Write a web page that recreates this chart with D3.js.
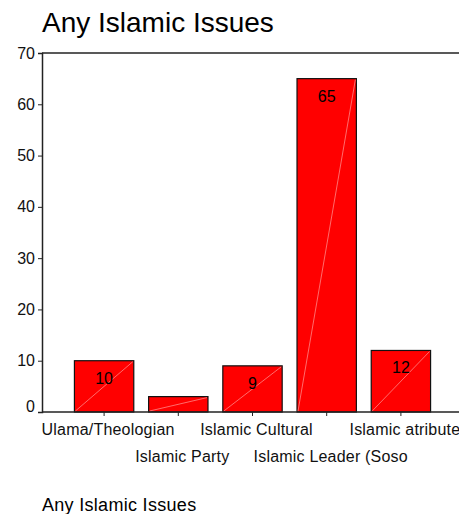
<!DOCTYPE html>
<html>
  <head>
    <title>Any Islamic Issues</title>
    <script src="https://d3js.org/d3.v7.min.js"></script>
    <style>
      body { margin: 0; background: #fff; }
      svg { font-family: "Liberation Sans", Arial, sans-serif; }
    </style>
  </head>
  <body>
    <svg width="459" height="514"></svg>
    <script>
    const categories = ["Ulama/Theologian", "Islamic Party", "Islamic Cultural", "Islamic Leader (Soso", "Islamic atribute"];
    const values = [10, 3, 9, 65, 12];
    const yTicks = [0, 10, 20, 30, 40, 50, 60, 70];

    const svg = d3.select("svg");
    const plotLeft = 42, plotRight = 459, plotTop = 53, plotBottom = 412;

    const x = d3.scaleBand()
        .domain(categories)
        .range([67, 438])
        .paddingInner(0.2)
        .paddingOuter(0.1);

    const y = d3.scaleLinear()
        .domain([0, 70])
        .range([plotBottom, plotTop]);

    // title
    svg.append("text")
        .attr("x", 42)
        .attr("y", 32)
        .style("font-size", "28px")
        .text("Any Islamic Issues");

    // bars
    const bars = svg.append("g");
    categories.forEach((c, i) => {
      const x0 = x(c), w = x.bandwidth(), yv = y(values[i]);
      bars.append("rect")
          .attr("x", x0)
          .attr("y", yv)
          .attr("width", w)
          .attr("height", plotBottom - yv)
          .attr("fill", "#ff0000")
          .attr("stroke", "#111")
          .attr("stroke-width", 1.2);
      bars.append("line")
          .attr("x1", x0 + 1).attr("y1", plotBottom - 1)
          .attr("x2", x0 + w - 1).attr("y2", yv + 1)
          .attr("stroke", "#ff9a9a")
          .attr("stroke-width", 0.7);
      if (plotBottom - yv > 25) {
        bars.append("text")
            .attr("x", x0 + w / 2)
            .attr("y", yv + 23)
            .attr("text-anchor", "middle")
            .style("font-size", "16px")
            .text(values[i]);
      }
    });

    // frame lines
    svg.append("line")
        .attr("x1", plotLeft).attr("x2", plotRight)
        .attr("y1", plotTop).attr("y2", plotTop)
        .attr("stroke", "#222").attr("stroke-width", 1.5);
    svg.append("line")
        .attr("x1", plotLeft).attr("x2", plotRight)
        .attr("y1", plotBottom).attr("y2", plotBottom)
        .attr("stroke", "#222").attr("stroke-width", 1.5);

    // y axis
    const yAxis = svg.append("g")
        .attr("transform", `translate(${plotLeft},0)`)
        .call(d3.axisLeft(y).tickValues(yTicks).tickSize(4).tickPadding(3));
    yAxis.select(".domain").attr("stroke", "#222").attr("stroke-width", 1.5);
    yAxis.selectAll(".tick line").attr("stroke", "#222");
    yAxis.selectAll("text")
        .style("font-size", "16px")
        .style("font-family", "'Liberation Sans', Arial, sans-serif")
        .attr("fill", "#111")
        .attr("dy", d => d === 0 ? "-0.05em" : "0.32em");

    // x axis
    const xAxis = svg.append("g")
        .attr("transform", `translate(0,${plotBottom})`)
        .call(d3.axisBottom(x).tickSize(4).tickSizeOuter(0));
    xAxis.select(".domain").remove();
    xAxis.selectAll(".tick line").attr("stroke", "#222");
    xAxis.selectAll("text")
        .style("font-size", "16px")
        .style("letter-spacing", "0.2px")
        .style("font-family", "'Liberation Sans', Arial, sans-serif")
        .attr("fill", "#111")
        .attr("x", 4)
        .attr("y", (d, i) => i % 2 === 0 ? 12 : 39)
        .attr("dy", "0.71em");

    // footer
    svg.append("text")
        .attr("x", 42)
        .attr("y", 511)
        .style("font-size", "18px")
        .style("letter-spacing", "0.3px")
        .text("Any Islamic Issues");
    </script>
  </body>
</html>
